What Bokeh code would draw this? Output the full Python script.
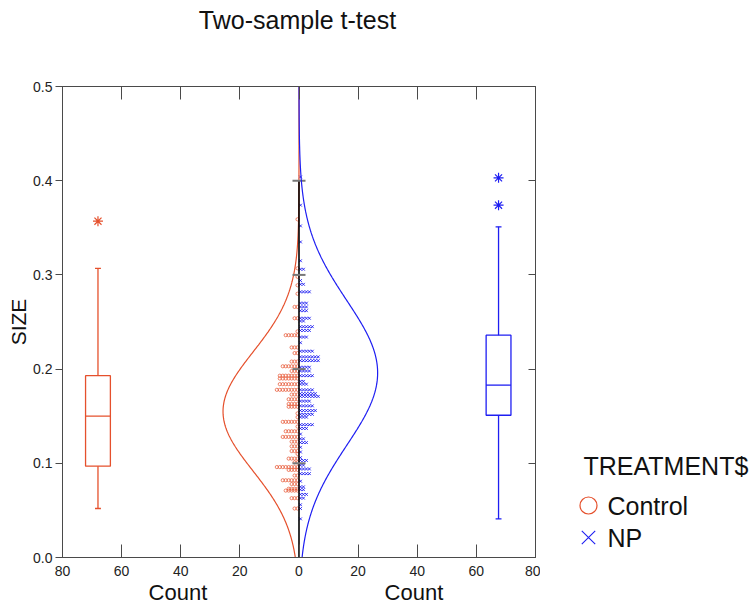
import numpy as np
from bokeh.plotting import figure
from bokeh.layouts import column, row
from bokeh.models import (Range1d, LinearAxis, FixedTicker, PrintfTickFormatter, Label)
from bokeh.embed import file_html
from bokeh.resources import INLINE

# ---------------- data ----------------
groups = ["Control", "NP"]

# dot-density rows: SIZE value and number of observations at that value
control_size = [0.359, 0.307, 0.298, 0.289, 0.280, 0.266, 0.254, 0.240, 0.236, 0.223,
                0.217, 0.208, 0.203, 0.198, 0.193, 0.190, 0.184, 0.178, 0.173, 0.168,
                0.163, 0.160, 0.153, 0.149, 0.144, 0.139, 0.134, 0.128, 0.123, 0.118,
                0.113, 0.110, 0.105, 0.101, 0.096, 0.093, 0.087, 0.082, 0.078, 0.073,
                0.071, 0.063, 0.052]
control_count = [1, 1, 1, 1, 1, 2, 2, 1, 5, 3,
                 2, 3, 6, 3, 7, 7, 7, 8, 3, 4,
                 4, 4, 1, 1, 6, 1, 5, 6, 3, 3,
                 3, 1, 4, 2, 8, 4, 2, 6, 3, 4,
                 5, 3, 2]

np_size = [0.404, 0.374, 0.352, 0.335, 0.315, 0.306, 0.294, 0.290, 0.282, 0.270,
           0.266, 0.262, 0.254, 0.251, 0.245, 0.241, 0.234, 0.228, 0.219, 0.213,
           0.209, 0.202, 0.198, 0.193, 0.187, 0.184, 0.178, 0.174, 0.171, 0.166,
           0.161, 0.156, 0.152, 0.149, 0.141, 0.137, 0.131, 0.126, 0.122, 0.117,
           0.112, 0.106, 0.103, 0.098, 0.094, 0.089, 0.081, 0.075, 0.072, 0.067,
           0.063, 0.056, 0.052, 0.041]
np_count = [1, 1, 1, 1, 1, 2, 1, 2, 4, 3,
            3, 3, 4, 2, 5, 4, 3, 1, 5, 7,
            7, 4, 4, 5, 2, 3, 5, 6, 7, 4,
            5, 6, 5, 3, 5, 3, 1, 2, 3, 1,
            1, 1, 3, 2, 4, 4, 1, 2, 2, 3,
            2, 1, 1, 1]

# box plot statistics: [lower whisker, Q1, median, Q3, upper whisker]
control_box = [0.052, 0.097, 0.150, 0.193, 0.307]
control_outliers = [0.357]
np_box = [0.041, 0.151, 0.183, 0.236, 0.351]
np_outliers = [0.374, 0.403]

# fitted normal curves (mean, sd, peak count)
control_norm = [0.155, 0.063, 25.7]
np_norm = [0.196, 0.077, 26.6]

x_ticks = [-80, -60, -40, -20, 0, 20, 40, 60, 80]
x_tick_labels = ["80", "60", "40", "20", "0", "20", "40", "60", "80"]
y_ticks = [0.0, 0.1, 0.2, 0.3, 0.4, 0.5]

title_text = "Two-sample t-test"
legend_title = "TREATMENT$"

RED = "#E5502C"
BLUE = "#1E1EF2"
FONT = "Liberation Sans"
AXC = "#4a4a4a"
TXT = "#111111"

# ---------------- title strip ----------------
TH = 40
tf = figure(width=756, height=TH, x_range=Range1d(0, 756), y_range=Range1d(TH, 0),
            output_backend="svg", toolbar_location=None, min_border=0)
tf.axis.visible = False
tf.grid.visible = False
tf.outline_line_color = None
tf.add_layout(Label(x=297, y=19, text=title_text, text_font=FONT, text_font_size="25px",
                    text_baseline="middle", text_align="center", text_color=TXT))

# ---------------- main figure ----------------
p = figure(width=540, height=607 - TH, x_range=Range1d(-80, 80), y_range=Range1d(0, 0.5),
           output_backend="svg", toolbar_location=None,
           min_border_left=62, min_border_right=5, min_border_top=86 - TH, min_border_bottom=50,
           x_axis_location="below", y_axis_location="left")
p.grid.visible = False
p.outline_line_color = AXC

# bottom axis
xa = p.xaxis[0]
xa.ticker = FixedTicker(ticks=x_ticks)
xa.major_label_overrides = {t: l for t, l in zip(x_ticks, x_tick_labels)}
xa.major_tick_in = 13
xa.major_tick_out = 0
xa.minor_tick_line_color = None
xa.axis_line_color = AXC
xa.major_tick_line_color = AXC
xa.major_label_text_font = FONT
xa.major_label_text_font_size = "14px"
xa.major_label_text_color = "#222222"
xa.major_label_standoff = 8
nb = "\u00a0"
xa.axis_label = "Count" + nb * 29 + "Count" + nb
xa.axis_label_text_font = FONT
xa.axis_label_text_font_size = "22px"
xa.axis_label_text_font_style = "normal"
xa.axis_label_text_color = TXT
xa.axis_label_standoff = 1

# left axis
ya = p.yaxis[0]
ya.ticker = FixedTicker(ticks=y_ticks)
ya.formatter = PrintfTickFormatter(format="%.1f")
ya.major_tick_in = 0
ya.major_tick_out = 7
ya.minor_tick_line_color = None
ya.axis_line_color = AXC
ya.major_tick_line_color = AXC
ya.major_label_text_font = FONT
ya.major_label_text_font_size = "14px"
ya.major_label_text_color = "#222222"
ya.major_label_standoff = 3
ya.axis_label = "SIZE"
ya.axis_label_text_font = FONT
ya.axis_label_text_font_size = "21px"
ya.axis_label_text_font_style = "normal"
ya.axis_label_text_color = TXT
ya.axis_label_standoff = 0

# top axis (ticks only)
ta = LinearAxis(ticker=FixedTicker(ticks=x_ticks), major_tick_in=13, major_tick_out=0,
                minor_tick_line_color=None, axis_line_color=AXC, major_tick_line_color=AXC,
                major_label_overrides={t: "" for t in x_ticks}, major_label_standoff=0)
p.add_layout(ta, "above")
# right axis (ticks only)
r_ticks = [0.1, 0.2, 0.3, 0.4]
ra = LinearAxis(ticker=FixedTicker(ticks=r_ticks), major_tick_in=7, major_tick_out=0,
                minor_tick_line_color=None, axis_line_color=AXC, major_tick_line_color=AXC,
                major_label_overrides={t: "" for t in r_ticks}, major_label_standoff=0)
p.add_layout(ra, "right")

# ---------------- dot density ----------------
def expand(sizes, counts, sign):
    xs, ys = [], []
    for s, c in zip(sizes, counts):
        for k in range(c):
            xs.append(sign * (k + 0.5))
            ys.append(s)
    return xs, ys

cx, cy = expand(control_size, control_count, -1)
nx, ny = expand(np_size, np_count, 1)
p.scatter(cx, cy, marker="circle", size=3.2, fill_color=None, line_color=RED,
          line_width=1, line_alpha=0.7)
p.scatter(nx, ny, marker="x", size=4, line_color=BLUE, line_width=1, line_alpha=0.9)

# ---------------- normal curves ----------------
yy = np.linspace(0, 0.5, 400)
def curve(par):
    m, s, pk = par
    return pk * np.exp(-((yy - m) ** 2) / (2 * s * s))

p.line(-curve(control_norm), yy, line_color=RED, line_width=1.2)
# centre axis of the dot plot
p.segment(x0=[0], y0=[0], x1=[0], y1=[0.4], line_color="black", line_width=1.6)
p.segment(x0=[-2.2] * 4, y0=r_ticks, x1=[2.2] * 4, y1=r_ticks,
          line_color="#777777", line_width=2)
p.line(curve(np_norm), yy, line_color=BLUE, line_width=1.2)

# ---------------- box plots ----------------
def boxplot(stats, outliers, xc, color):
    lo, q1, med, q3, hi = stats
    hw = 4.2
    p.quad(left=[xc - hw], right=[xc + hw], bottom=[q1], top=[q3], fill_color=None,
           line_color=color, line_width=1.3)
    p.segment(x0=[xc - hw], y0=[med], x1=[xc + hw], y1=[med], line_color=color, line_width=1.3)
    p.segment(x0=[xc, xc], y0=[q3, q1], x1=[xc, xc], y1=[hi, lo], line_color=color, line_width=1.3)
    p.segment(x0=[xc - 1, xc - 1], y0=[hi, lo], x1=[xc + 1, xc + 1], y1=[hi, lo],
              line_color=color, line_width=1.3)
    p.scatter([xc] * len(outliers), outliers, marker="asterisk", size=10, line_color=color,
              line_width=1.2)

boxplot(control_box, control_outliers, -68, RED)
boxplot(np_box, np_outliers, 67.5, BLUE)

# ---------------- legend panel (its frame is aligned with the main frame: 86..557) ----------------
LW = 756 - 540
lf = figure(width=LW, height=607 - TH, x_range=Range1d(540, 756), y_range=Range1d(557, 86),
            output_backend="svg", toolbar_location=None, min_border=0)
lf.axis.visible = False
lf.grid.visible = False
lf.outline_line_color = None
lf.scatter([588], [505], marker="circle", size=17, fill_color=None, line_color=RED,
           line_width=1.2)
lf.scatter([588], [537], marker="x", size=19, line_color=BLUE, line_width=1.1)
lf.add_layout(Label(x=607, y=505, text=groups[0], text_font=FONT, text_font_size="25px",
                    text_baseline="middle", text_align="left", text_color=TXT))
lf.add_layout(Label(x=607, y=537, text=groups[1], text_font=FONT, text_font_size="25px",
                    text_baseline="middle", text_align="left", text_color=TXT))
lf.add_layout(Label(x=583, y=465, text=legend_title, text_font=FONT,
                    text_font_size="25px", text_baseline="middle", text_align="left",
                    text_color=TXT))

layout = column(tf, row(p, lf, spacing=0), spacing=0)
open("out.html", "w").write(file_html(layout, INLINE))
